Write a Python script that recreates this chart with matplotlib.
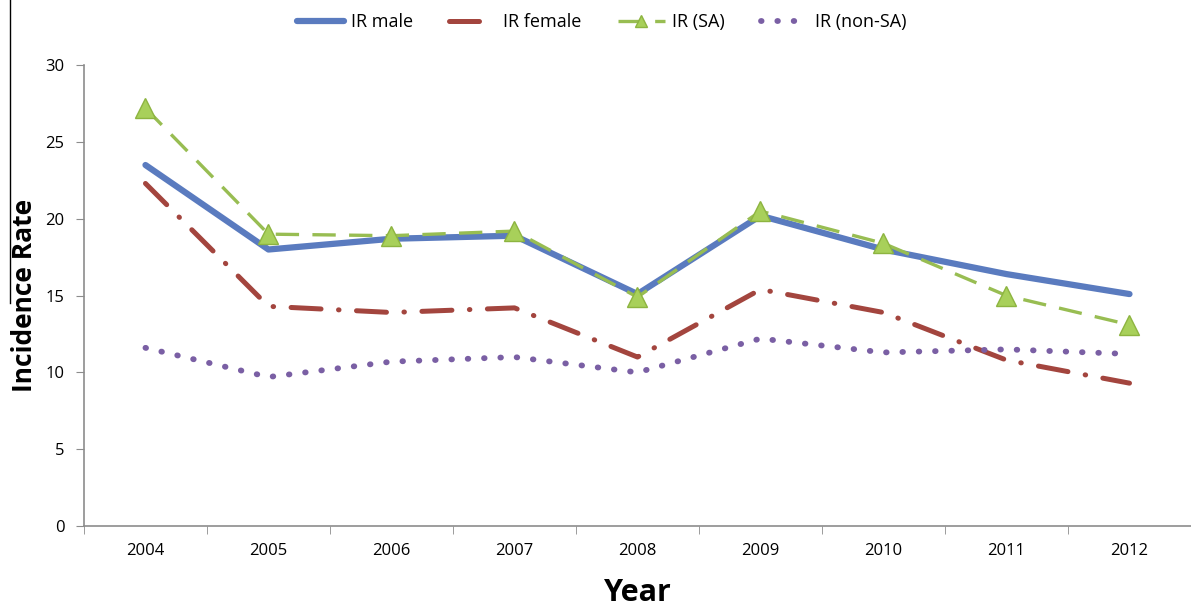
import matplotlib
matplotlib.use("Agg")
import matplotlib.pyplot as plt
from matplotlib.lines import Line2D

plt.rcParams['font.family'] = ['Open Sans', 'DejaVu Sans']

years = ['2004', '2005', '2006', '2007', '2008', '2009', '2010', '2011', '2012']
ir_male = [23.5, 18.0, 18.7, 18.9, 15.1, 20.2, 18.0, 16.4, 15.1]
ir_female = [22.3, 14.3, 13.9, 14.2, 11.0, 15.4, 13.9, 10.8, 9.3]
ir_sa = [27.2, 19.0, 18.9, 19.2, 14.9, 20.5, 18.4, 15.0, 13.1]
ir_nonsa = [11.6, 9.7, 10.7, 11.0, 10.0, 12.2, 11.3, 11.5, 11.2]

fig = plt.figure(figsize=(11.91, 6.12), dpi=100)
ax = fig.add_axes([0.0705, 0.1405, 0.9295, 0.753])

x = list(range(len(years)))
ax.plot(x, ir_male, color='#5a7bbf', lw=4.5, solid_capstyle='round', label='IR male')
ax.plot(x, ir_female, color='#a3453e', lw=3.6, linestyle=(0, (6, 3.5, 0.1, 3.5)),
        dash_capstyle='round', label='IR female')
ax.plot(x, ir_sa, color='#98bd52', lw=2.4, linestyle=(0, (7, 4)),
        marker='^', markersize=15, markerfacecolor='#a8d05a', markeredgecolor='#8db440',
        label='IR (SA)')
ax.plot(x, ir_nonsa, color='#7a5fa4', lw=4.2, linestyle=(0, (0.1, 2.7)),
        dash_capstyle='round', label='IR (non-SA)')

ax.set_xlim(-0.5, len(years) - 0.5)
ax.set_ylim(0, 30)
ax.set_yticks([0, 5, 10, 15, 20, 25, 30])
ax.set_xticks(x)
ax.set_xticklabels(years)
ax.set_xticks([i - 0.5 for i in range(len(years) + 1)], minor=True)
ax.tick_params(axis='x', which='major', length=0, pad=12, labelsize=12)
ax.tick_params(axis='x', which='minor', length=6, color='#8c8c8c', direction='out')
ax.tick_params(axis='y', length=6, color='#8c8c8c', labelsize=12, pad=8)

for s in ['top', 'right']:
    ax.spines[s].set_visible(False)
for s in ['left', 'bottom']:
    ax.spines[s].set_color('#8c8c8c')
    ax.spines[s].set_linewidth(1.2)

ax.set_ylabel('Incidence Rate', fontsize=19, fontweight='bold', labelpad=5)
ax.set_xlabel('Year', fontsize=22, fontweight='bold', labelpad=14)

fig.legend(loc='upper center', bbox_to_anchor=(0.505, 1.005), ncol=4, frameon=False,
           fontsize=13, handlelength=2.6, columnspacing=2.0, handletextpad=0.4,
           markerscale=0.6)

# stray vertical rule at the left edge
fig.add_artist(Line2D([0.008, 0.008], [0.505, 1.0], color='black', lw=1))

fig.savefig('out.png', dpi=100)
